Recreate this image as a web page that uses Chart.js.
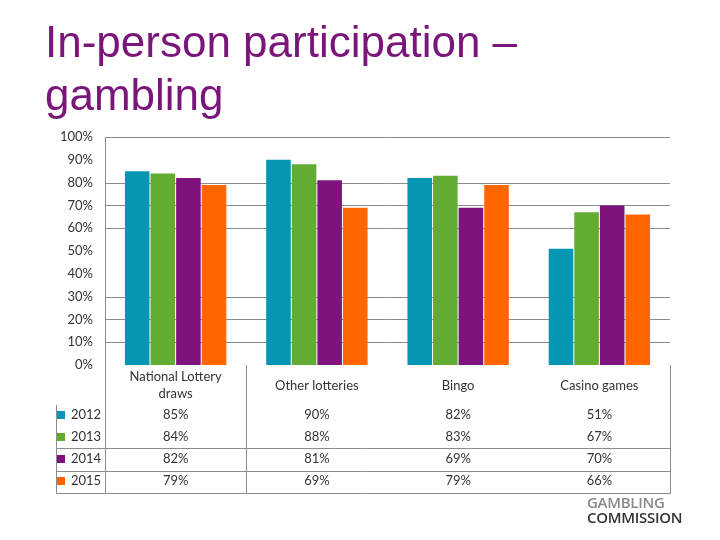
<!DOCTYPE html>
<html>
<head>
<meta charset="utf-8">
<script src="https://cdn.jsdelivr.net/npm/chart.js@4"></script>
<style>
  body { margin: 0; background: #fff; }
  #wrap { position: relative; width: 720px; height: 540px; overflow: hidden; }
  #chart { position: absolute; left: 0; top: 0; }
  h1 {
    position: absolute; left: 45px; top: 15px; margin: 0;
    font-family: "Liberation Sans", Arial, sans-serif; font-weight: normal;
    font-size: 44px; line-height: 53px; color: #7a1579;
  }
  .logo {
    position: absolute; left: 587px; top: 495px;
    font-family: "Open Sans", sans-serif; font-weight: 600; font-size: 15px;
    line-height: 15px; letter-spacing: -0.3px;
  }
  .logo .a { color: #8a8a8a; }
  .logo .b { color: #333; }
</style>
</head>
<body>
<div id="wrap">
  <canvas id="chart" width="720" height="540"></canvas>
  <h1>In-person participation –<br>gambling</h1>
  <div class="logo"><div class="a">GAMBLING</div><div class="b">COMMISSION</div></div>
</div>
<script>
const categories = [["National Lottery", "draws"], "Other lotteries", "Bingo", "Casino games"];
const years = ["2012", "2013", "2014", "2015"];
const values2012 = [85, 90, 82, 51];
const values2013 = [84, 88, 83, 67];
const values2014 = [82, 81, 69, 70];
const values2015 = [79, 69, 79, 66];
const yTicks = [0, 10, 20, 30, 40, 50, 60, 70, 80, 90, 100];
const hiddenGrid = [0, 40, 50, 90];
const colors = ["#0795b4", "#63ac33", "#7e137e", "#ff6600"];

const allValues = [values2012, values2013, values2014, values2015];

// gridlines (the picture leaves a few of them out)
const gridPlugin = {
  id: "partialGrid",
  beforeDatasetsDraw(chart) {
    const ctx = chart.ctx;
    const y = chart.scales.y;
    const area = chart.chartArea;
    ctx.save();
    ctx.strokeStyle = "#8c8c8c";
    ctx.lineWidth = 1;
    ctx.beginPath();
    yTicks.forEach((v) => {
      if (hiddenGrid.includes(v)) return;
      const py = Math.round(y.getPixelForValue(v)) + 0.5;
      ctx.moveTo(area.left, py);
      ctx.lineTo(area.right, py);
    });
    ctx.stroke();
    ctx.restore();
  },
};

const tablePlugin = {
  id: "dataTable",
  afterDraw(chart) {
    const ctx = chart.ctx;
    const x = chart.scales.x;
    const area = chart.chartArea;
    const centers = categories.map((c, i) => x.getPixelForValue(i));
    const split = (centers[0] + centers[1]) / 2;
    const rowY = [415, 437, 459, 481];

    ctx.save();
    ctx.strokeStyle = "#8c8c8c";
    ctx.lineWidth = 1;
    ctx.beginPath();
    ctx.moveTo(area.left + 0.5, area.bottom);
    ctx.lineTo(area.left + 0.5, 493);
    ctx.moveTo(Math.round(split) + 0.5, area.bottom);
    ctx.lineTo(Math.round(split) + 0.5, 493);
    ctx.moveTo(area.right + 0.5, area.bottom);
    ctx.lineTo(area.right + 0.5, 493);
    ctx.moveTo(56.5, 405);
    ctx.lineTo(56.5, 493);
    [448.5, 471.5, 493.5].forEach((y) => {
      ctx.moveTo(56, y);
      ctx.lineTo(area.right + 1, y);
    });
    ctx.stroke();

    ctx.fillStyle = "#333";
    ctx.font = "13px Lato, sans-serif";
    ctx.textAlign = "center";
    ctx.textBaseline = "middle";
    categories.forEach((c, i) => {
      if (Array.isArray(c)) {
        ctx.fillText(c[0], centers[i], 377);
        ctx.fillText(c[1], centers[i], 394);
      } else {
        ctx.fillText(c, centers[i], 386);
      }
    });

    years.forEach((yr, r) => {
      ctx.fillStyle = colors[r];
      ctx.fillRect(57, rowY[r] - 4, 8, 8);
      ctx.fillStyle = "#333";
      ctx.textAlign = "left";
      ctx.fillText(yr, 71, rowY[r]);
      ctx.textAlign = "center";
      allValues[r].forEach((v, i) => {
        ctx.fillText(v + "%", centers[i], rowY[r]);
      });
    });
    ctx.restore();
  },
};

new Chart(document.getElementById("chart"), {
  type: "bar",
  data: {
    labels: categories,
    datasets: years.map((yr, i) => ({
      label: yr,
      data: allValues[i],
      backgroundColor: colors[i],
      barPercentage: 0.96,
      categoryPercentage: 0.725,
    })),
  },
  options: {
    responsive: false,
    animation: false,
    layout: { padding: { top: 137, right: 50, bottom: 175, left: 0 } },
    plugins: {
      legend: { display: false },
      tooltip: { enabled: false },
    },
    scales: {
      x: {
        display: false,
      },
      y: {
        min: 0,
        max: 100,
        afterFit(scale) {
          scale.width = 105;
        },
        afterBuildTicks(scale) {
          scale.ticks = yTicks.map((v) => ({ value: v }));
        },
        ticks: {
          padding: 12,
          color: "#333",
          font: { family: "Lato, sans-serif", size: 13 },
          callback: (v) => v + "%",
        },
        grid: { display: false, drawTicks: false },
        border: { display: true, color: "#8c8c8c" },
      },
    },
  },
  plugins: [gridPlugin, tablePlugin],
});
</script>
</body>
</html>
